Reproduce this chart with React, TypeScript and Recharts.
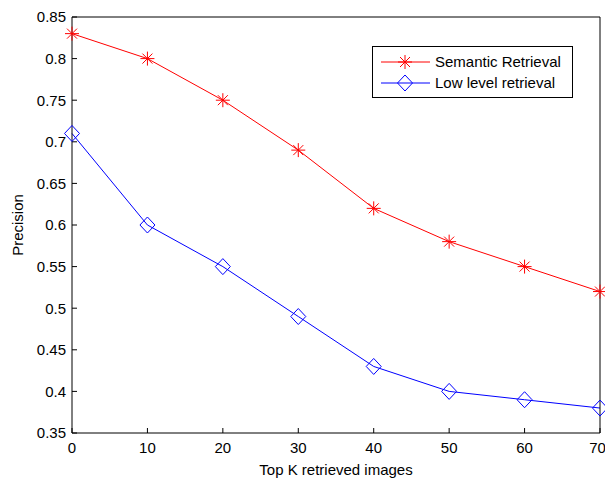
import type { JSX } from "react";
import { LineChart, Line, XAxis, YAxis, Legend } from "recharts";

// values
const topK = [0, 10, 20, 30, 40, 50, 60, 70];
const semanticRetrieval = [0.83, 0.8, 0.75, 0.69, 0.62, 0.58, 0.55, 0.52];
const lowLevelRetrieval = [0.71, 0.6, 0.55, 0.49, 0.43, 0.4, 0.39, 0.38];
const xTicks = [0, 10, 20, 30, 40, 50, 60, 70];
const yTicks = [0.35, 0.4, 0.45, 0.5, 0.55, 0.6, 0.65, 0.7, 0.75, 0.8, 0.85];

const data = topK.map((k, i) => ({
  k,
  semantic: semanticRetrieval[i],
  low: lowLevelRetrieval[i],
}));

const FONT = "'Liberation Sans', Arial, sans-serif";
const RED = "#ff0000";
const BLUE = "#0000ff";
const tickStyle = { fontSize: 15, fill: "#000", fontFamily: FONT };

function Star({ cx, cy, color }: { cx: number; cy: number; color: string }): JSX.Element {
  const r = 7;
  const d = 5;
  return (
    <g stroke={color} strokeWidth={1} fill="none">
      <line x1={cx - r} y1={cy} x2={cx + r} y2={cy} />
      <line x1={cx} y1={cy - r} x2={cx} y2={cy + r} />
      <line x1={cx - d} y1={cy - d} x2={cx + d} y2={cy + d} />
      <line x1={cx - d} y1={cy + d} x2={cx + d} y2={cy - d} />
    </g>
  );
}

function Diamond({ cx, cy, color }: { cx: number; cy: number; color: string }): JSX.Element {
  const w = 7.5;
  const h = 8;
  return (
    <path
      d={`M${cx},${cy - h} L${cx + w},${cy} L${cx},${cy + h} L${cx - w},${cy} Z`}
      stroke={color}
      strokeWidth={1}
      fill="none"
    />
  );
}

const starDot = (p: any) => <Star key={`s-${p.index}`} cx={p.cx} cy={p.cy} color={RED} />;
const diamondDot = (p: any) => <Diamond key={`d-${p.index}`} cx={p.cx} cy={p.cy} color={BLUE} />;

const fmtY = (v: number) => String(Number(v.toFixed(2)));

function LegendBox(): JSX.Element {
  return (
    <svg width={201} height={52} style={{ display: "block" }}>
      <rect x={0.5} y={0.5} width={200} height={51} fill="#fff" stroke="#000" strokeWidth={1} />
      <line x1={9} y1={16} x2={58} y2={16} stroke={RED} strokeWidth={1} />
      <Star cx={33} cy={16} color={RED} />
      <text x={63} y={21} fontSize={15} fontFamily={FONT} fill="#000">
        Semantic Retrieval
      </text>
      <line x1={9} y1={37} x2={58} y2={37} stroke={BLUE} strokeWidth={1} />
      <Diamond cx={33} cy={37} color={BLUE} />
      <text x={63} y={42} fontSize={15} fontFamily={FONT} fill="#000">
        Low level retrieval
      </text>
    </svg>
  );
}

export default function App(): JSX.Element {
  return (
    <div style={{ position: "absolute", left: 0, top: 0, width: 605, height: 479, background: "#fff" }}>
      <LineChart width={605} height={479} data={data} margin={{ top: 16, right: 4, bottom: 0, left: 0 }}>
        <XAxis
          dataKey="k"
          type="number"
          domain={[0, 70]}
          ticks={xTicks}
          height={46}
          tick={tickStyle}
          tickSize={-5}
          tickMargin={14}
          stroke="#000"
          label={{
            value: "Top K retrieved images",
            content: (props: any) => {
              const vb = props.viewBox;
              return (
                <text x={vb.x + vb.width / 2} y={vb.y + 42} textAnchor="middle" fontSize={15} fontFamily={FONT} fill="#000">
                  Top K retrieved images
                </text>
              );
            },
          }}
        />
        <XAxis
          xAxisId="top"
          orientation="top"
          type="number"
          domain={[0, 70]}
          ticks={xTicks}
          height={1}
          tick={false}
          tickSize={-5}
          stroke="#000"
        />
        <YAxis
          type="number"
          domain={[0.35, 0.85]}
          ticks={yTicks}
          width={72}
          tick={tickStyle}
          tickFormatter={fmtY}
          tickSize={-5}
          tickMargin={11}
          stroke="#000"
          label={{
            value: "Precision",
            content: (props: any) => {
              const vb = props.viewBox;
              const cy = vb.y + vb.height / 2;
              return (
                <text
                  x={23}
                  y={cy}
                  transform={`rotate(-90 23 ${cy})`}
                  textAnchor="middle"
                  fontSize={15}
                  fontFamily={FONT}
                  fill="#000"
                >
                  Precision
                </text>
              );
            },
          }}
        />
        <YAxis
          yAxisId="right"
          orientation="right"
          type="number"
          domain={[0.35, 0.85]}
          ticks={yTicks}
          width={1}
          tick={false}
          tickSize={-5}
          stroke="#000"
        />
        <Legend
          layout="vertical"
          align="center"
          verticalAlign="middle"
          content={() => <LegendBox />}
          wrapperStyle={{ left: 372, top: 46, right: "auto", bottom: "auto", width: 201, height: 52 }}
        />
        <Line
          dataKey="semantic"
          stroke={RED}
          strokeWidth={1}
          dot={starDot}
          activeDot={false}
          isAnimationActive={false}
        />
        <Line
          dataKey="low"
          stroke={BLUE}
          strokeWidth={1}
          dot={diamondDot}
          activeDot={false}
          isAnimationActive={false}
        />
      </LineChart>
    </div>
  );
}
